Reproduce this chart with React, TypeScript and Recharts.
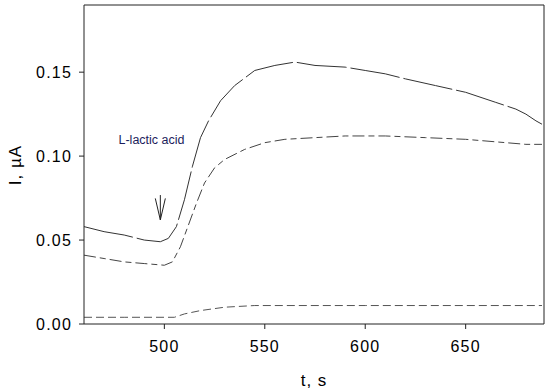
import React from "react";
import { LineChart, Line, XAxis, YAxis, ReferenceLine, ReferenceDot } from "recharts";

// solid trace (top)
const topTimes = [460, 470, 480, 490, 498, 502, 506, 510, 514, 518, 522, 528, 535, 545, 555, 565, 575, 590, 600, 610, 620, 635, 650, 665, 675, 680, 685, 688];
const topValues = [0.058, 0.055, 0.053, 0.05, 0.049, 0.051, 0.058, 0.074, 0.094, 0.111, 0.121, 0.133, 0.142, 0.151, 0.154, 0.156, 0.154, 0.153, 0.151, 0.149, 0.146, 0.142, 0.138, 0.132, 0.128, 0.125, 0.121, 0.119];

// dash-dot trace (middle)
const midTimes = [460, 470, 480, 490, 500, 504, 508, 512, 516, 520, 525, 530, 540, 550, 560, 575, 590, 610, 630, 650, 670, 680, 688];
const midValues = [0.041, 0.039, 0.037, 0.036, 0.035, 0.037, 0.046, 0.059, 0.072, 0.084, 0.093, 0.098, 0.104, 0.108, 0.11, 0.111, 0.112, 0.112, 0.111, 0.11, 0.108, 0.107, 0.107];

// dashed trace (bottom)
const lowTimes = [460, 480, 500, 505, 510, 518, 530, 545, 560, 600, 650, 688];
const lowValues = [0.004, 0.004, 0.004, 0.004, 0.006, 0.008, 0.01, 0.011, 0.011, 0.011, 0.011, 0.011];

const xTicks = [500, 550, 600, 650];
const yTicks = [0, 0.05, 0.1, 0.15];

const X_MIN = 460;
const X_MAX = 689;
const Y_MAX = 0.19;

// arrow marking the injection
const arrowT = 498;
const arrowTop = 0.0768;
const arrowTip = 0.062;

const toPoints = (times: number[], values: number[]) =>
  times.map((t, i) => ({ t, v: values[i] }));

const topData = toPoints(topTimes, topValues);
const midData = toPoints(midTimes, midValues);
const lowData = toPoints(lowTimes, lowValues);

const font = "Arial, 'Liberation Sans', sans-serif";
const frame = "#222";
const tickStyle = { fill: "#000", fontSize: 16, fontFamily: font, letterSpacing: 1.2 };

export default function App() {
  return (
    <div style={{ width: 550, height: 391 }}>
      <style>{`body{margin:0}`}</style>
      <LineChart width={550} height={391} margin={{ top: 5, right: 6, bottom: 0, left: 24 }}>
        <XAxis
          dataKey="t"
          type="number"
          domain={[X_MIN, X_MAX]}
          ticks={xTicks}
          allowDataOverflow
          height={67}
          tickSize={5}
          tickMargin={12}
          stroke={frame}
          tick={tickStyle}
          label={{ value: "t, s", position: "insideBottom", offset: 5, fill: "#000", fontSize: 17, fontFamily: font, letterSpacing: 1 }}
        />
        <YAxis
          type="number"
          domain={[0, Y_MAX]}
          ticks={yTicks}
          allowDataOverflow
          width={60}
          tickSize={5}
          tickMargin={7}
          stroke={frame}
          tickFormatter={(v: number) => v.toFixed(2)}
          tick={tickStyle}
          label={{
            content: () => (
              <text x={21} y={165} transform="rotate(-90 21 165)" textAnchor="middle" fontSize={17} fontFamily={font} fill="#000" letterSpacing={1}>
                I, µA
              </text>
            ),
          }}
        />
        <ReferenceLine y={Y_MAX} stroke={frame} />
        <ReferenceLine x={X_MAX} stroke={frame} />

        <Line data={lowData} dataKey="v" stroke="#555" strokeWidth={1} strokeDasharray="8 4" dot={false} isAnimationActive={false} />
        <Line data={midData} dataKey="v" stroke="#444" strokeWidth={1} strokeDasharray="12 4 6 4" dot={false} isAnimationActive={false} />
        <Line data={topData} dataKey="v" stroke="#333" strokeWidth={1} strokeDasharray="50 4" dot={false} isAnimationActive={false} />

        <ReferenceLine segment={[{ x: arrowT, y: arrowTop }, { x: arrowT, y: arrowTip }]} stroke="#222" />
        <ReferenceLine segment={[{ x: arrowT - 2.5, y: arrowTop - 0.002 }, { x: arrowT, y: arrowTip }]} stroke="#222" />
        <ReferenceLine segment={[{ x: arrowT + 2.5, y: arrowTop - 0.002 }, { x: arrowT, y: arrowTip }]} stroke="#222" />

        <ReferenceDot
          x={493.6}
          y={0.11}
          r={0}
          label={{ value: "L-lactic acid", position: "center", fill: "#1c1c5c", fontSize: 12.5, fontFamily: font }}
        />
      </LineChart>
    </div>
  );
}
